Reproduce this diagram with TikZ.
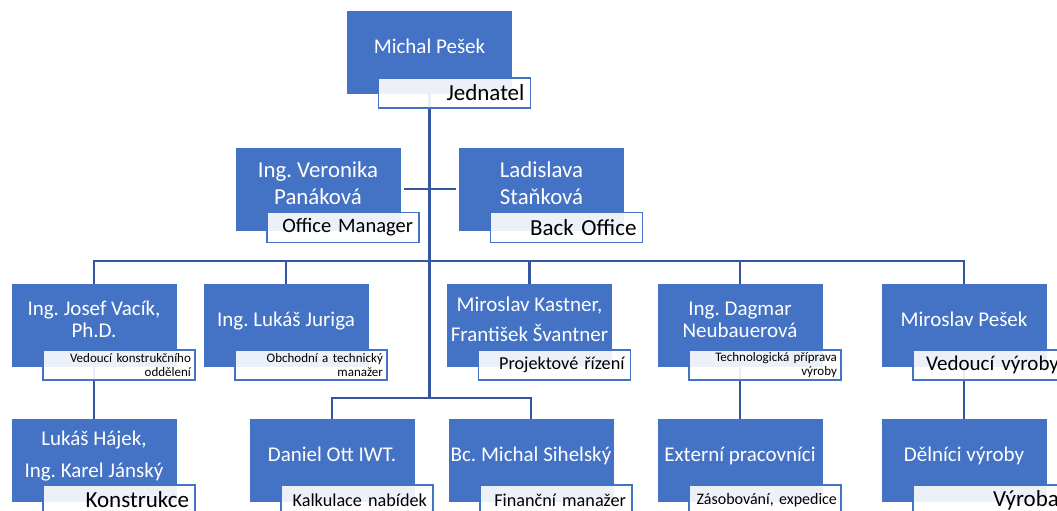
\documentclass[tikz,border=0pt]{standalone}
\usepackage{fontspec}
\setmainfont{Carlito}
\frenchspacing
\definecolor{ChartBlue}{RGB}{68, 114, 196}
\definecolor{LineBlue}{RGB}{52, 86, 160}
\usetikzlibrary{positioning, backgrounds}

\begin{document}
\begin{tikzpicture}[
        x=1pt, y=-1pt,
        person/.style={rectangle, fill=ChartBlue, text=white, minimum width=165pt, minimum height=83pt, inner sep=0pt, align=center, text depth=12pt, font=\fontsize{21}{22}\selectfont},
        bigperson/.style={person, font=\fontsize{22.8}{24}\selectfont},
        role/.style={rectangle, draw=ChartBlue, line width=1.5pt, fill=white, fill opacity=0.9, text opacity=1, text=black, minimum height=30pt, text width=140pt, inner xsep=6pt, inner ysep=0pt, align=right, font=\fontsize{23}{24}\selectfont},
        midrole/.style={role, font=\fontsize{18.2}{19}\selectfont},
        smallrole/.style={role, text width=144pt, inner xsep=4pt, font=\fontsize{13}{13.5}\selectfont},
        link/.style={draw=LineBlue, line width=2.5pt}
    ]
        \useasboundingbox (0,0) rectangle (1057,511);
        \clip (0,0) rectangle (1057,511);

        % Management
        \node[person] (pesek) at (429.5,52.5) {Michal Pešek};
        \node[role, below left=-17pt and -19pt of pesek.south east] (pesek-role) {Jednatel};

        \node[bigperson] (panakova) at (318,189) {Ing. Veronika\\[3pt]Panáková};
        \node[role, font=\fontsize{20.5}{21}\selectfont, below left=-19pt and -19pt of panakova.south east] (panakova-role) {Office Manager};
        \node[bigperson] (stankova) at (541.5,189) {Ladislava\\[3pt]Staňková};
        \node[role, below left=-19pt and -19pt of stankova.south east] (stankova-role) {Back Office};

        % Departments
        \node[person] (vacik) at (94,325.5) {Ing. Josef Vacík,\\Ph.D.};
        \node[smallrole, below left=-18pt and -19pt of vacik.south east] (vacik-role) {Vedoucí konstrukčního\\oddělení};
        \node[person] (juriga) at (286,325.5) {Ing. Lukáš Juriga};
        \node[smallrole, below left=-18pt and -19pt of juriga.south east] (juriga-role) {Obchodní a technický\\manažer};
        \node[person] (kastner) at (529.5,325.5) {Miroslav Kastner,\\[8pt]František Švantner};
        \node[midrole, below left=-18pt and -19pt of kastner.south east] (kastner-role) {Projektové řízení};
        \node[person] (neubauer) at (740,325.5) {Ing. Dagmar\\Neubauerová};
        \node[smallrole, below left=-18pt and -19pt of neubauer.south east] (neubauer-role) {Technologická příprava\\výroby};
        \node[person] (mpesek) at (964,325.5) {Miroslav Pešek};
        \node[role, font=\fontsize{21}{22}\selectfont, below left=-18pt and -19pt of mpesek.south east] (mpesek-role) {Vedoucí výroby};

        % Staff
        \node[person] (hajek) at (94,460.5) {Lukáš Hájek,\\[10pt]Ing. Karel Jánský};
        \node[role, below left=-18pt and -19pt of hajek.south east] (hajek-role) {Konstrukce};
        \node[person] (ott) at (332,460.5) {Daniel Ott IWT.};
        \node[midrole, below left=-18pt and -19pt of ott.south east] (ott-role) {Kalkulace nabídek};
        \node[person] (sihelsky) at (531,460.5) {Bc. Michal Sihelský};
        \node[midrole, below left=-18pt and -19pt of sihelsky.south east] (sihelsky-role) {Finanční manažer};
        \node[person] (externi) at (740,460.5) {Externí pracovníci};
        \node[smallrole, font=\fontsize{16}{17}\selectfont, below left=-18pt and -19pt of externi.south east] (externi-role) {Zásobování, expedice};
        \node[person] (delnici) at (964,460.5) {Dělníci výroby};
        \node[role, below left=-18pt and -19pt of delnici.south east] (delnici-role) {Výroba};

        % Links
        \begin{pgfonlayer}{background}
            \draw[link] (pesek) -- ([yshift=21pt]pesek |- ott.north);
            \draw[link] ([xshift=3pt]panakova.east) -- ([xshift=-3pt]stankova.west);
            \draw[link] (vacik.north) -- ++(0,-23) -| (mpesek.north);
            \draw[link] (juriga.north) -- ++(0,-23);
            \draw[link] (kastner.north) -- ++(0,-23);
            \draw[link] (neubauer.north) -- ++(0,-23);
            \draw[link] (ott.north) -- ++(0,-21) -| (sihelsky.north);
            \draw[link] (vacik) -- (hajek);
            \draw[link] (neubauer) -- (externi);
            \draw[link] (mpesek) -- (delnici);
        \end{pgfonlayer}
    \end{tikzpicture}
\end{document}
